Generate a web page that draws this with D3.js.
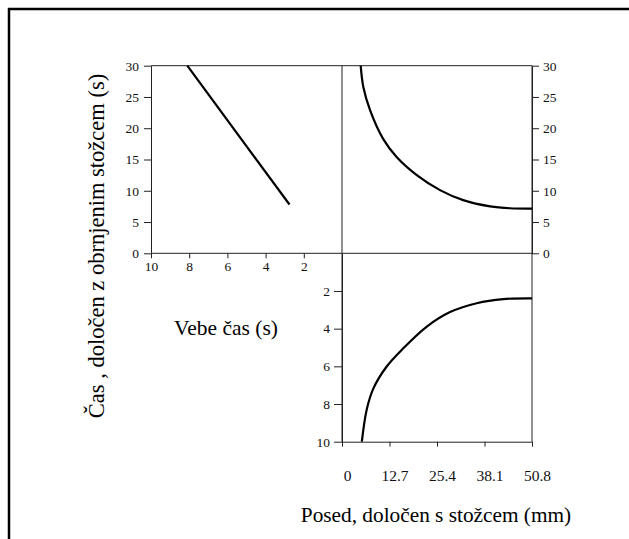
<!DOCTYPE html>
<html>
<head>
<meta charset="utf-8">
<script src="https://cdn.jsdelivr.net/npm/d3@7"></script>
<style>
  body { margin: 0; background: #fff; }
  svg { display: block; }
  .tick line { stroke: #222; }
  .domain { stroke: #222; }
  .tick text { font-family: 'Liberation Serif', 'DejaVu Serif', serif; }
</style>
</head>
<body>
<div id="chart"></div>
<script>
// data
const vebeTicks = [10, 8, 6, 4, 2];
const coneTicks = [0, 5, 10, 15, 20, 25, 30];
const vebeDownTicks = [2, 4, 6, 8, 10];
const slumpTicks = [0, 12.7, 25.4, 38.1, 50.8];

// top-left: Vebe time vs inverted cone time
const lineVebe = [8.1, 2.75];
const lineCone = [30, 7.8];

// top-right: slump vs inverted cone time
const slumpA = [5.0, 5.7, 7.5, 11.0, 14.6, 20.0, 26.2, 32.4, 39.6, 44.9, 50.8];
const coneA = [30, 26.6, 22.9, 18.3, 15.4, 12.5, 10.1, 8.5, 7.5, 7.2, 7.15];

// bottom: slump vs Vebe time
const slumpB = [5.3, 6.6, 8.4, 11.9, 16.4, 22.6, 28.9, 36.0, 43.1, 50.8];
const vebeB = [10, 8.3, 7.17, 6.02, 5.04, 3.9, 3.12, 2.65, 2.43, 2.39];

const w = 629, h = 539;
const svg = d3.select("#chart").append("svg")
    .attr("width", w)
    .attr("height", h);

const xL = d3.scaleLinear().domain([10, 0]).range([151, 342]);
const yT = d3.scaleLinear().domain([0, 30]).range([253.3, 65.7]);
const xR = d3.scaleLinear().domain([0, 50.8]).range([342, 532]);
const yB = d3.scaleLinear().domain([0, 10]).range([253.3, 441.7]);

const numFont = "'Liberation Serif', 'DejaVu Serif', serif";

// outer frame (top and left only are visible)
svg.append("line").attr("x1", 8).attr("x2", w).attr("y1", 9).attr("y2", 9)
    .attr("stroke", "#000").attr("stroke-width", 2.5);
svg.append("line").attr("x1", 9).attr("x2", 9).attr("y1", 8).attr("y2", h)
    .attr("stroke", "#000").attr("stroke-width", 2.5);

// panel frame lines
const frame = svg.append("g").attr("stroke", "#222").attr("stroke-width", 1);
frame.append("line").attr("x1", xL(10)).attr("x2", xR(50.8)).attr("y1", yT(30)).attr("y2", yT(30));
frame.append("line").attr("x1", xL(10)).attr("x2", xR(50.8)).attr("y1", yT(0)).attr("y2", yT(0));
frame.append("line").attr("x1", xL(0)).attr("x2", xL(0)).attr("y1", yT(30)).attr("y2", yB(10));
frame.append("line").attr("x1", xR(50.8)).attr("x2", xR(50.8)).attr("y1", yT(30)).attr("y2", yB(10));

function styleAxis(g, size) {
    g.attr("font-family", numFont).attr("font-size", size);
    g.selectAll("text").attr("fill", "#111");
}

// top-left axes
svg.append("g").attr("transform", "translate(" + xL(10) + ",0)")
    .call(d3.axisLeft(yT).tickValues(coneTicks).tickSize(7).tickPadding(5).tickSizeOuter(0))
    .call(g => styleAxis(g, 13.5));
svg.append("g").attr("transform", "translate(0," + yT(0) + ")")
    .call(d3.axisBottom(xL).tickValues(vebeTicks).tickSize(5).tickPadding(3).tickSizeOuter(0))
    .call(g => g.select(".domain").remove())
    .call(g => styleAxis(g, 13.5));

// top-right axis
svg.append("g").attr("transform", "translate(" + xR(50.8) + ",0)")
    .call(d3.axisRight(yT).tickValues(coneTicks).tickSize(7).tickPadding(4).tickSizeOuter(0))
    .call(g => styleAxis(g, 13.5));

// bottom axes
svg.append("g").attr("transform", "translate(" + xR(0) + ",0)")
    .call(d3.axisLeft(yB).tickValues(vebeDownTicks).tickSize(8).tickPadding(4).tickSizeOuter(0))
    .call(g => styleAxis(g, 13.5));
svg.append("g").attr("transform", "translate(0," + yB(10) + ")")
    .call(d3.axisBottom(xR).tickValues(slumpTicks).tickSize(5).tickPadding(23).tickSizeOuter(0)
        .tickFormat(d => d === 0 ? "0" : d3.format(".1f")(d)))
    .call(g => styleAxis(g, 15.5))
    .call(g => g.selectAll("text").attr("dx", 5));

// curves
const curveStyle = g => g.attr("fill", "none").attr("stroke", "#000").attr("stroke-width", 2.2);

svg.append("path")
    .datum(d3.range(lineVebe.length))
    .attr("d", d3.line().x(i => xL(lineVebe[i])).y(i => yT(lineCone[i])))
    .call(curveStyle);

svg.append("path")
    .datum(d3.range(slumpA.length))
    .attr("d", d3.line().curve(d3.curveCatmullRom.alpha(0.5)).x(i => xR(slumpA[i])).y(i => yT(coneA[i])))
    .call(curveStyle);

svg.append("path")
    .datum(d3.range(slumpB.length))
    .attr("d", d3.line().curve(d3.curveCatmullRom.alpha(0.5)).x(i => xR(slumpB[i])).y(i => yB(vebeB[i])))
    .call(curveStyle);

// titles
const titleFont = "'Liberation Serif', 'Times New Roman', serif";
svg.append("text")
    .attr("x", 226).attr("y", 335)
    .attr("text-anchor", "middle")
    .style("font-family", titleFont).style("font-size", "21.5px")
    .text("Vebe čas (s)");

svg.append("text")
    .attr("x", 436).attr("y", 522)
    .attr("text-anchor", "middle")
    .style("font-family", titleFont).style("font-size", "21.3px")
    .text("Posed, določen s stožcem (mm)");

svg.append("text")
    .attr("transform", "translate(104,246) rotate(-90)")
    .attr("text-anchor", "middle")
    .style("font-family", titleFont).style("font-size", "22.5px")
    .text("Čas , določen z obrnjenim stožcem (s)");
</script>
</body>
</html>
